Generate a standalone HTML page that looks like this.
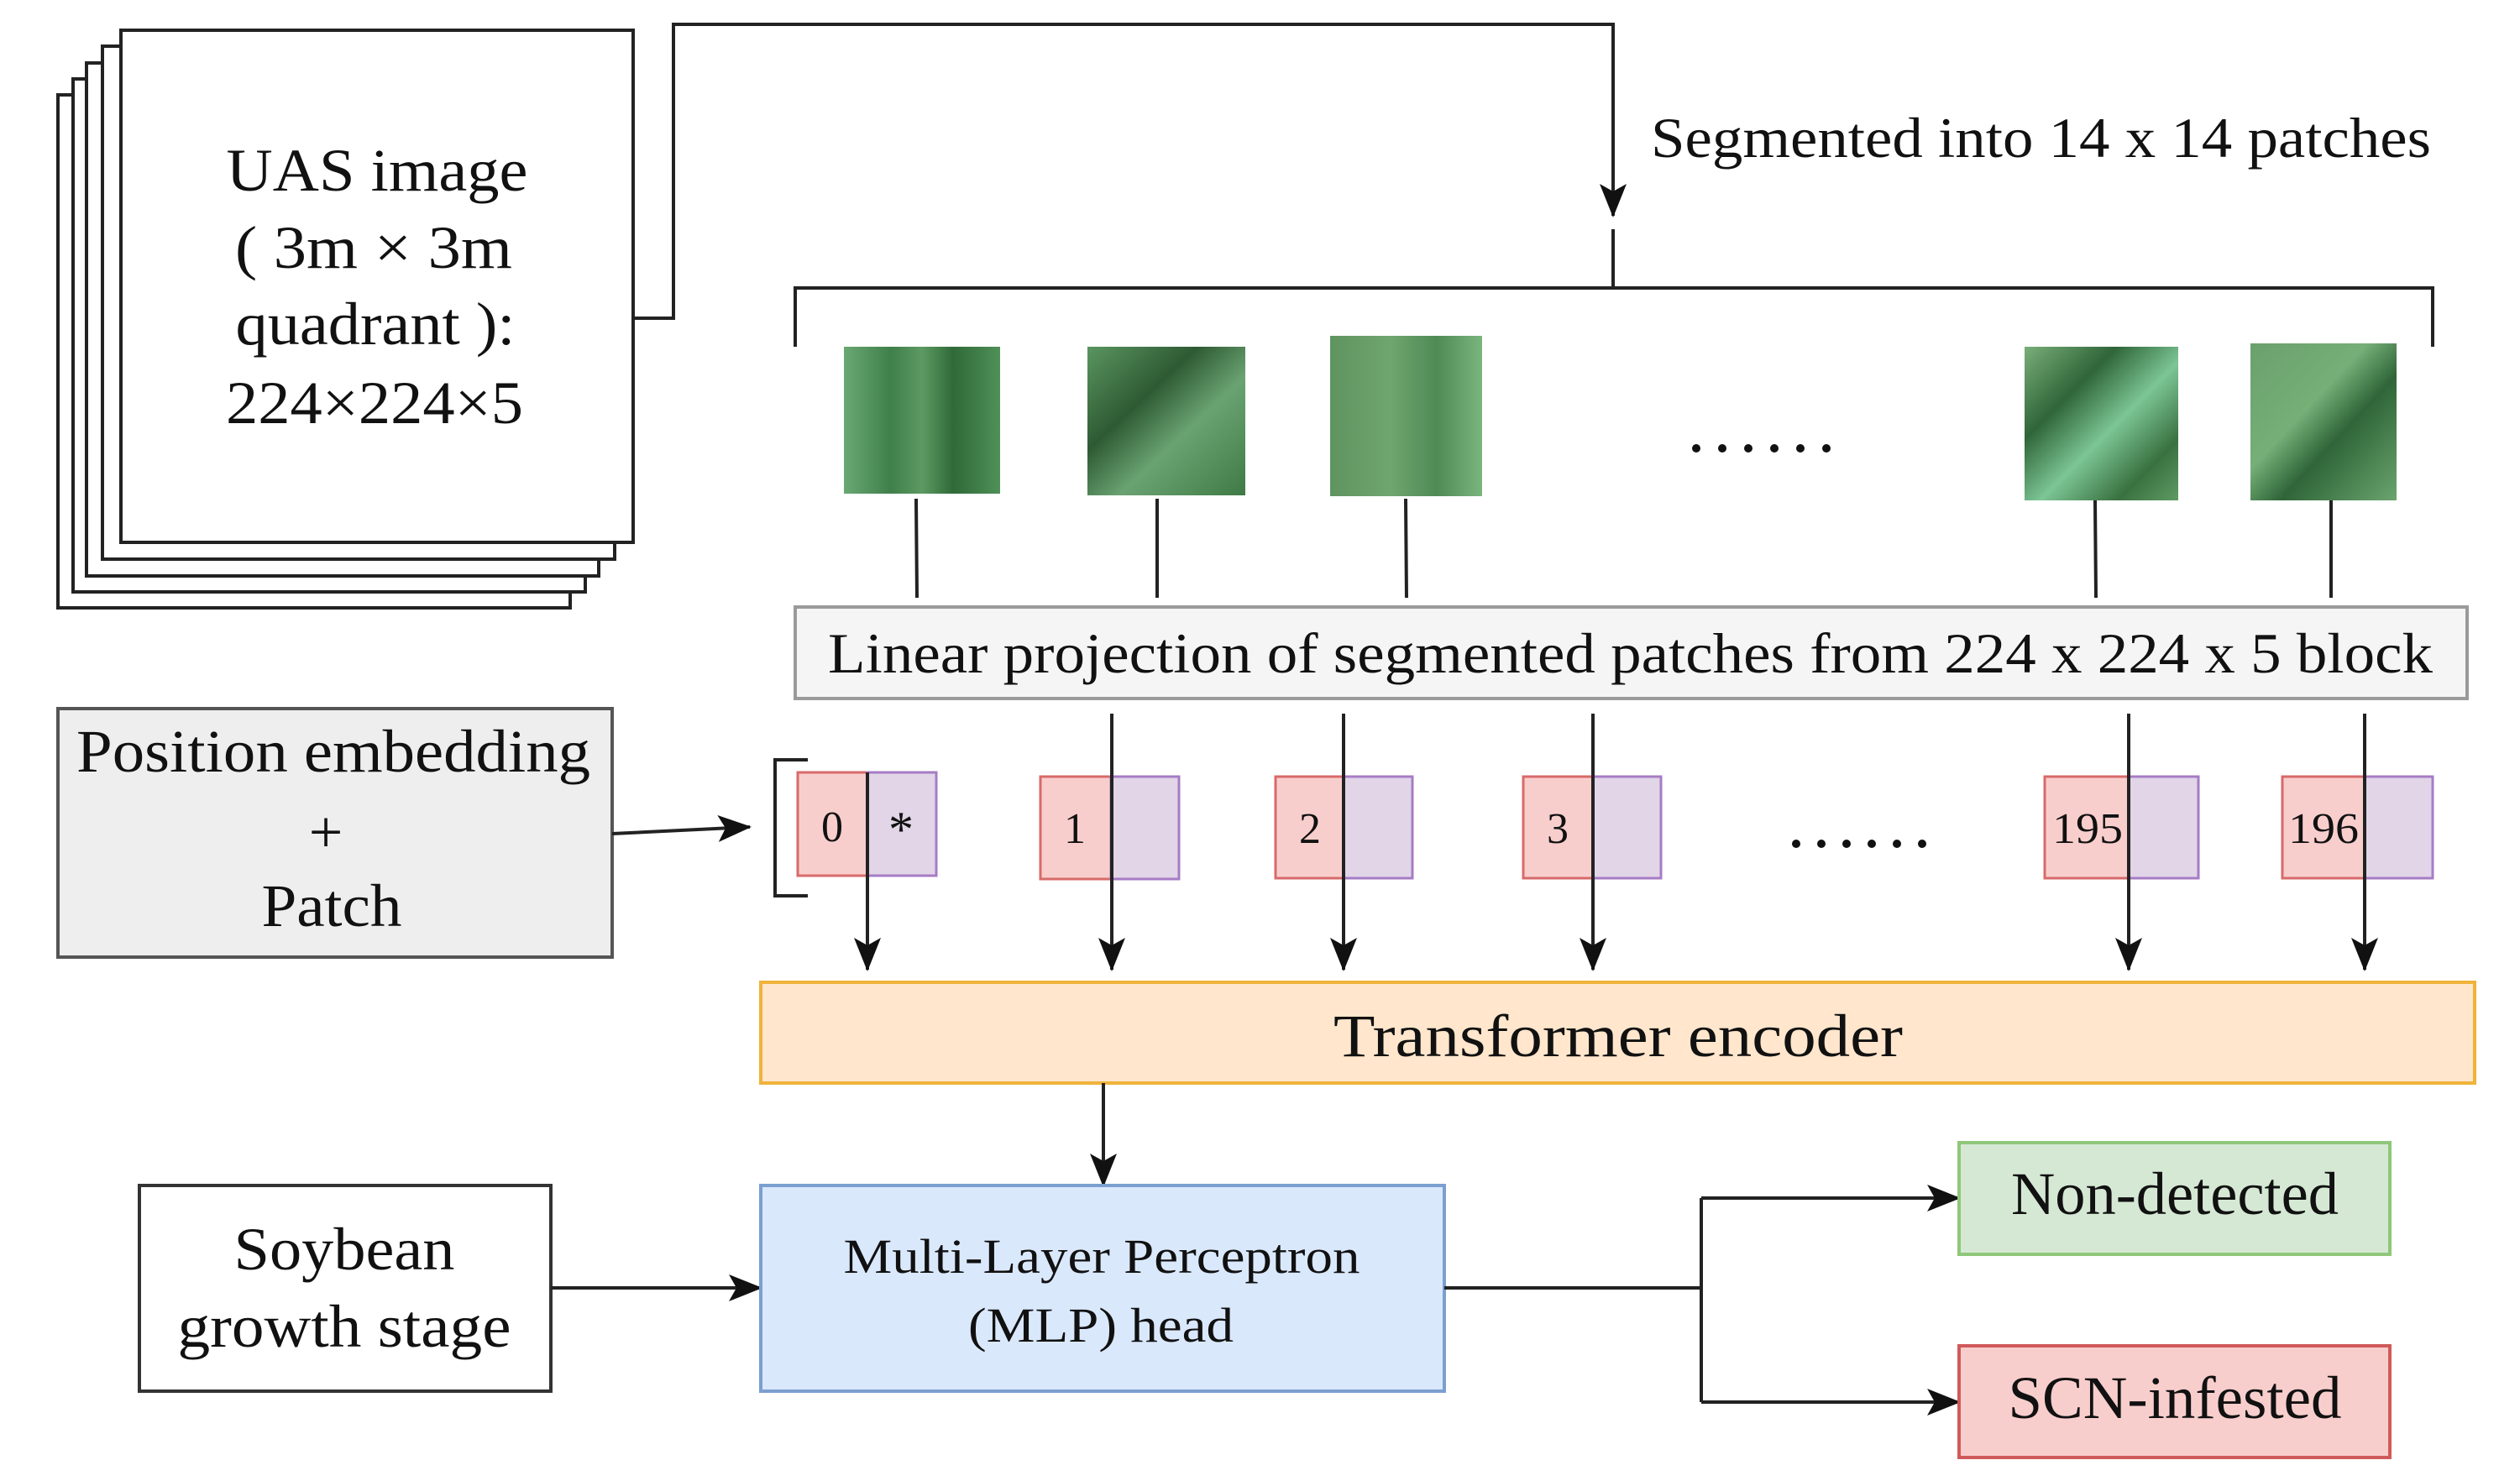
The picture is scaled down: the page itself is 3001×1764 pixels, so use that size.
<!DOCTYPE html>
<html><head><meta charset="utf-8"><style>
html,body{margin:0;padding:0;background:#fff;}
svg{display:block;}
text{font-family:"Liberation Serif",serif;fill:#111;}
</style></head><body>
<svg width="3001" height="1764" viewBox="0 0 3001 1764" xmlns="http://www.w3.org/2000/svg">
<defs>
<marker id="ah" markerUnits="userSpaceOnUse" markerWidth="40" markerHeight="32" refX="38" refY="16" orient="auto">
<path d="M0,0 L40,16 L0,32 L9,16 Z" fill="#111"/>
</marker>
<linearGradient id="g1" x1="0" y1="0" x2="1" y2="0">
<stop offset="0" stop-color="#6aa873"/><stop offset="0.3" stop-color="#3f7f4a"/><stop offset="0.5" stop-color="#5c9a62"/><stop offset="0.7" stop-color="#2f6a38"/><stop offset="1" stop-color="#4f9058"/></linearGradient>
<linearGradient id="g2" x1="0" y1="0" x2="1" y2="1">
<stop offset="0" stop-color="#5a9560"/><stop offset="0.35" stop-color="#2e5a33"/><stop offset="0.6" stop-color="#6aa372"/><stop offset="1" stop-color="#3f7a45"/></linearGradient>
<linearGradient id="g3" x1="0" y1="0" x2="1" y2="0">
<stop offset="0" stop-color="#5f9460"/><stop offset="0.4" stop-color="#6fa56e"/><stop offset="0.7" stop-color="#4f8a55"/><stop offset="1" stop-color="#7ab57e"/></linearGradient>
<linearGradient id="g4" x1="0" y1="0" x2="1" y2="1">
<stop offset="0" stop-color="#7aae7a"/><stop offset="0.3" stop-color="#2f6538"/><stop offset="0.55" stop-color="#7cc595"/><stop offset="0.8" stop-color="#3a7140"/><stop offset="1" stop-color="#5e9a62"/></linearGradient>
<linearGradient id="g5" x1="0" y1="0" x2="1" y2="1">
<stop offset="0" stop-color="#6aa06c"/><stop offset="0.4" stop-color="#76af78"/><stop offset="0.6" stop-color="#2f6538"/><stop offset="1" stop-color="#6aa46e"/></linearGradient>
</defs>

<g fill="#fff" stroke="#222" stroke-width="4">
<rect x="69" y="113" width="610" height="611"/>
<rect x="87" y="94" width="610" height="611"/>
<rect x="103" y="75" width="610" height="611"/>
<rect x="122" y="55" width="610" height="611"/>
<rect x="144" y="36" width="610" height="610"/>
</g>
<g font-size="72" text-anchor="middle">
<text x="449" y="227" textLength="359" lengthAdjust="spacingAndGlyphs">UAS image</text>
<text x="445" y="319" textLength="330" lengthAdjust="spacingAndGlyphs">( 3m × 3m</text>
<text x="447" y="410" textLength="333" lengthAdjust="spacingAndGlyphs">quadrant ):</text>
<text x="446" y="504" textLength="354" lengthAdjust="spacingAndGlyphs">224×224×5</text>
</g>

<g fill="none" stroke="#222" stroke-width="4">
<polyline points="754,379 802,379 802,29 1921,29 1921,257" marker-end="url(#ah)"/>
<line x1="1921" y1="273" x2="1921" y2="343"/>
<polyline points="947,413 947,343 2897,343 2897,413"/>
</g>
<text x="1966" y="187" font-size="68" textLength="929" lengthAdjust="spacingAndGlyphs">Segmented into 14 x 14 patches</text>

<rect x="1005" y="413" width="186" height="175" fill="url(#g1)"/>
<rect x="1295" y="413" width="188" height="177" fill="url(#g2)"/>
<rect x="1584" y="400" width="181" height="191" fill="url(#g3)"/>
<rect x="2411" y="413" width="183" height="183" fill="url(#g4)"/>
<rect x="2680" y="409" width="174" height="187" fill="url(#g5)"/>
<g fill="#111">
<circle cx="2020" cy="534" r="5"/><circle cx="2051" cy="534" r="5"/><circle cx="2082" cy="534" r="5"/><circle cx="2113" cy="534" r="5"/><circle cx="2144" cy="534" r="5"/><circle cx="2175" cy="534" r="5"/>
</g>
<g stroke="#222" stroke-width="4">
<line x1="1091" y1="594" x2="1092" y2="712"/>
<line x1="1378" y1="594" x2="1378" y2="712"/>
<line x1="1674" y1="594" x2="1675" y2="712"/>
<line x1="2495" y1="596" x2="2496" y2="712"/>
<line x1="2776" y1="596" x2="2776" y2="712"/>
</g>

<rect x="947" y="723" width="1991" height="109" fill="#f5f5f5" stroke="#9a9a9a" stroke-width="4"/>
<text x="986" y="801" font-size="68" textLength="1911" lengthAdjust="spacingAndGlyphs">Linear projection of segmented patches from 224 x 224 x 5 block</text>

<rect x="69" y="844" width="660" height="296" fill="#eeeeee" stroke="#555" stroke-width="4"/>
<g font-size="72" text-anchor="middle">
<text x="397" y="919" textLength="612" lengthAdjust="spacingAndGlyphs">Position embedding</text>
<text x="388" y="1015">+</text>
<text x="395" y="1103" textLength="167" lengthAdjust="spacingAndGlyphs">Patch</text>
</g>
<line x1="729" y1="993" x2="893" y2="985" stroke="#222" stroke-width="4" marker-end="url(#ah)"/>
<polyline points="962,905 923,905 923,1067 962,1067" fill="none" stroke="#222" stroke-width="4"/>

<g stroke-width="3">
<rect x="950" y="920" width="83" height="123" fill="#f8cecc" stroke="#d86a6a"/>
<rect x="1033" y="920" width="82" height="123" fill="#e1d5e7" stroke="#a67cc5"/>
<rect x="1239" y="925" width="84" height="122" fill="#f8cecc" stroke="#d86a6a"/>
<rect x="1323" y="925" width="81" height="122" fill="#e1d5e7" stroke="#a67cc5"/>
<rect x="1519" y="925" width="81" height="121" fill="#f8cecc" stroke="#d86a6a"/>
<rect x="1600" y="925" width="82" height="121" fill="#e1d5e7" stroke="#a67cc5"/>
<rect x="1814" y="925" width="83" height="121" fill="#f8cecc" stroke="#d86a6a"/>
<rect x="1897" y="925" width="81" height="121" fill="#e1d5e7" stroke="#a67cc5"/>
<rect x="2435" y="925" width="100" height="121" fill="#f8cecc" stroke="#d86a6a"/>
<rect x="2535" y="925" width="83" height="121" fill="#e1d5e7" stroke="#a67cc5"/>
<rect x="2718" y="925" width="98" height="121" fill="#f8cecc" stroke="#d86a6a"/>
<rect x="2816" y="925" width="81" height="121" fill="#e1d5e7" stroke="#a67cc5"/>
</g>
<g font-size="52" text-anchor="middle">
<text x="991" y="1002">0</text>
<text x="1073" y="1008" font-size="60">*</text>
<text x="1280" y="1004">1</text>
<text x="1560" y="1004">2</text>
<text x="1855" y="1004">3</text>
<text x="2486" y="1004" textLength="84" lengthAdjust="spacingAndGlyphs">195</text>
<text x="2767" y="1004" textLength="84" lengthAdjust="spacingAndGlyphs">196</text>
</g>
<g fill="#111">
<circle cx="2139" cy="1005" r="5"/><circle cx="2169" cy="1005" r="5"/><circle cx="2199" cy="1005" r="5"/><circle cx="2229" cy="1005" r="5"/><circle cx="2259" cy="1005" r="5"/><circle cx="2289" cy="1005" r="5"/>
</g>
<g stroke="#222" stroke-width="4" marker-end="url(#ah)">
<line x1="1033" y1="920" x2="1033" y2="1155"/>
<line x1="1324" y1="850" x2="1324" y2="1155"/>
<line x1="1600" y1="850" x2="1600" y2="1155"/>
<line x1="1897" y1="850" x2="1897" y2="1155"/>
<line x1="2535" y1="850" x2="2535" y2="1155"/>
<line x1="2816" y1="850" x2="2816" y2="1155"/>
</g>

<rect x="906" y="1170" width="2041" height="120" fill="#ffe6cc" stroke="#f0b33a" stroke-width="4"/>
<text x="1588" y="1258" font-size="72" textLength="678" lengthAdjust="spacingAndGlyphs">Transformer encoder</text>
<line x1="1314" y1="1290" x2="1314" y2="1412" stroke="#222" stroke-width="4" marker-end="url(#ah)"/>

<rect x="166" y="1412" width="490" height="245" fill="#fff" stroke="#333" stroke-width="4"/>
<g font-size="72" text-anchor="middle">
<text x="410" y="1512" textLength="263" lengthAdjust="spacingAndGlyphs">Soybean</text>
<text x="410" y="1604" textLength="397" lengthAdjust="spacingAndGlyphs">growth stage</text>
</g>
<line x1="656" y1="1534" x2="906" y2="1534" stroke="#222" stroke-width="4" marker-end="url(#ah)"/>

<rect x="906" y="1412" width="814" height="245" fill="#dae8fc" stroke="#7b9fd0" stroke-width="4"/>
<g font-size="58" text-anchor="middle">
<text x="1312" y="1516" textLength="615" lengthAdjust="spacingAndGlyphs">Multi-Layer Perceptron</text>
<text x="1311" y="1598" textLength="316" lengthAdjust="spacingAndGlyphs">(MLP) head</text>
</g>
<g fill="none" stroke="#222" stroke-width="4">
<line x1="1720" y1="1534" x2="2026" y2="1534"/>
<line x1="2026" y1="1427" x2="2026" y2="1670"/>
<line x1="2026" y1="1427" x2="2333" y2="1427" marker-end="url(#ah)"/>
<line x1="2026" y1="1670" x2="2333" y2="1670" marker-end="url(#ah)"/>
</g>

<rect x="2333" y="1361" width="513" height="133" fill="#d5e8d4" stroke="#8fc77a" stroke-width="4"/>
<text x="2590" y="1446" font-size="72" text-anchor="middle" textLength="390" lengthAdjust="spacingAndGlyphs">Non-detected</text>
<rect x="2333" y="1603" width="513" height="133" fill="#f8cecc" stroke="#d05a5a" stroke-width="4"/>
<text x="2590" y="1689" font-size="72" text-anchor="middle" textLength="397" lengthAdjust="spacingAndGlyphs">SCN-infested</text>
</svg>
</body></html>
